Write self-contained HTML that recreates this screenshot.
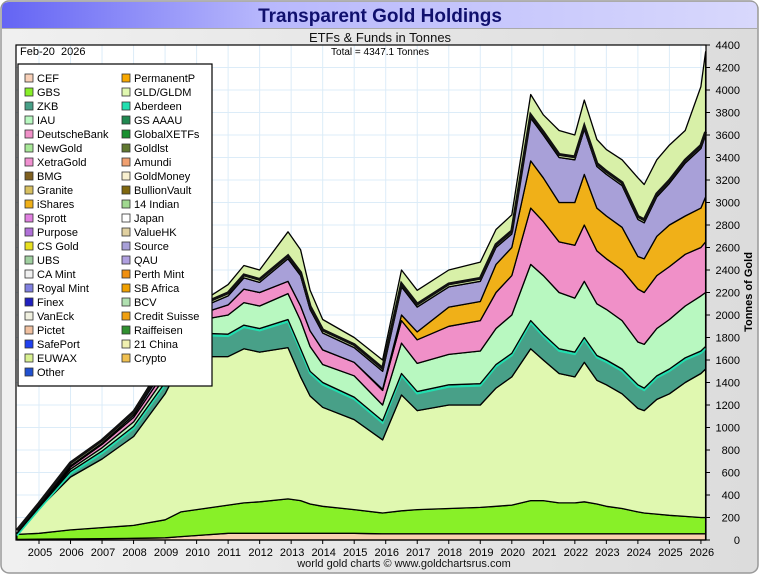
<!DOCTYPE html>
<html><head><meta charset="utf-8">
<style>
body{margin:0;background:#fff;font-family:"Liberation Sans",sans-serif;}
#wrap{position:relative;width:760px;height:575px;overflow:hidden;}
</style></head>
<body>
<div id="wrap">
<svg id="chart" width="760" height="575" xmlns="http://www.w3.org/2000/svg">
<defs>
<linearGradient id="tg" x1="0" x2="1" y1="0" y2="0"><stop offset="0" stop-color="#6464f4"/><stop offset="0.35" stop-color="#b8b8fc"/><stop offset="1" stop-color="#d8d8fc"/></linearGradient>
<linearGradient id="bg" x1="0" x2="1" y1="0" y2="0"><stop offset="0" stop-color="#f0f0f0"/><stop offset="1" stop-color="#dcdcdc"/></linearGradient>
</defs>
<rect x="1" y="1" width="757" height="572" rx="8" fill="url(#bg)" stroke="#999" stroke-width="1.5"/>
<path d="M2 28 V9 Q2 2 9 2 H751 Q757 2 757 9 V28 Z" fill="url(#tg)"/>
<line x1="2" y1="28.5" x2="757" y2="28.5" stroke="#aaa"/>
<text x="380" y="22" text-anchor="middle" font-size="19" font-weight="bold" fill="#10106e">Transparent Gold Holdings</text>
<text x="380" y="42" text-anchor="middle" font-size="13" fill="#111">ETFs &amp; Funds in Tonnes</text>
<rect x="16" y="45" width="690" height="495" fill="#fff"/>
<g id="grid"></g>
<g id="areas"></g>
<rect x="16" y="45" width="690" height="495" fill="none" stroke="#000" stroke-width="1.2"/>
<g id="yaxis"></g>
<g id="xaxis"></g>
<text x="20" y="55" font-size="11" fill="#000">Feb-20&#160;&#160;2026</text>
<text x="380" y="55" text-anchor="middle" font-size="10" fill="#000">Total = 4347.1 Tonnes</text>
<text transform="translate(752,292) rotate(-90)" text-anchor="middle" font-size="11" font-weight="bold" fill="#000">Tonnes of Gold</text>
<text x="404" y="567" text-anchor="middle" font-size="11" fill="#111">world gold charts © www.goldchartsrus.com</text>
<g id="legend"></g>
</svg>
</div>
<script>
const times = [2004.3,2005,2006,2007,2008,2009,2009.5,2010,2011,2011.5,2012,2012.9,2013.3,2013.6,2014,2015,2015.9,2016.5,2017,2018,2019,2019.5,2020,2020.6,2021,2021.5,2022,2022.3,2022.7,2023,2023.5,2024,2024.2,2024.6,2025,2025.5,2026,2026.15];
const cefVals   = [5,8,10,12,15,20,30,40,60,60,60,60,60,60,60,60,55,55,55,55,55,55,55,55,55,55,55,55,55,55,55,55,55,55,55,55,55,55];
const gbsVals   = [45,52,80,98,115,160,220,230,250,270,280,305,290,260,240,210,185,205,215,225,235,245,255,295,295,275,275,285,265,245,225,195,185,175,165,155,145,145];
const gldVals   = [5,220,470,610,790,1120,1320,1360,1320,1370,1330,1345,1100,960,880,800,650,1030,880,920,910,1050,1140,1350,1250,1150,1120,1240,1100,1080,1020,920,910,1020,1080,1190,1280,1320];
const zkbVals   = [3,10,50,70,90,100,150,210,200,210,210,250,250,220,220,200,170,190,170,180,190,210,210,250,230,220,220,220,220,220,220,210,200,210,220,220,200,200];
const iauVals   = [1,5,20,30,40,50,80,110,170,200,200,230,250,220,160,190,140,270,250,270,290,320,340,500,520,500,480,500,460,450,430,380,390,420,440,460,490,480];
const dbVals    = [1,5,20,30,40,50,60,50,90,120,120,110,130,140,130,120,130,200,210,250,270,320,350,500,480,450,470,500,470,450,450,470,460,470,470,460,430,450];
const ishVals   = [0,0,0,0,0,0,0,0,0,0,0,0,0,0,0,0,10,50,70,170,170,250,250,420,390,350,380,450,380,380,380,290,300,350,370,340,350,400];
const srcVals   = [0,0,10,10,20,40,40,50,80,100,90,200,270,190,150,130,160,250,220,180,180,150,120,380,380,400,380,400,370,370,370,330,320,350,370,470,530,550];
const otherVals = [0,10,30,30,40,60,50,40,100,110,110,240,230,170,120,90,100,150,150,150,170,160,170,210,180,240,220,260,240,220,230,370,340,330,340,290,550,740];
const yTicks = [0,200,400,600,800,1000,1200,1400,1600,1800,2000,2200,2400,2600,2800,3000,3200,3400,3600,3800,4000,4200,4400];
const yearLabels = ["2005","2006","2007","2008","2009","2010","2011","2012","2013","2014","2015","2016","2017","2018","2019","2020","2021","2022","2023","2024","2025","2026"];
const legendNames = ["CEF","PermanentP","GBS","GLD/GLDM","ZKB","Aberdeen","IAU","GS AAAU","DeutscheBank","GlobalXETFs","NewGold","Goldlst","XetraGold","Amundi","BMG","GoldMoney","Granite","BullionVault","iShares","14 Indian","Sprott","Japan","Purpose","ValueHK","CS Gold","Source","UBS","QAU","CA Mint","Perth Mint","Royal Mint","SB Africa","Finex","BCV","VanEck","Credit Suisse","Pictet","Raiffeisen","SafePort","21 China","EUWAX","Crypto","Other"];
const legendColors = ["#f8d0b8","#f8a800","#88f028","#e0f8b0","#48a088","#20e0b0","#b8f8c0","#208850","#f090c8","#189030","#a8e898","#607830","#f090d0","#f0a070","#806020","#f8f0d0","#d8c060","#806810","#f0b018","#a0d890","#e080e0","#ffffff","#b070d8","#e0d0a0","#e8e020","#a8a0d8","#a0d0a0","#b0a0e0","#f0f0f0","#f09010","#8080e0","#f0a000","#2020c0","#b0e0b0","#f0f0e0","#f0a010","#f0c0a0","#309030","#2040f0","#f0f0b0","#d8f090","#f0c050","#2050d0"];

const X0=16,X1=706,Y0=540,YT=45;
function xs(t){return 39+(t-2005)*31.52;}
function ys(v){return Y0-(v/4400)*(Y0-YT);}
const NS="http://www.w3.org/2000/svg";
function mk(tag,attrs,parent){const e=document.createElementNS(NS,tag);for(const k in attrs)e.setAttribute(k,attrs[k]);parent.appendChild(e);return e;}

const grid=document.getElementById('grid');
yTicks.forEach(v=>{const l=mk('line',{x1:X0,x2:X1,y1:ys(v),y2:ys(v),stroke:'#dcecf8','stroke-width':1},grid);

});
yearLabels.forEach(y=>{const x=xs(+y);const l=mk('line',{x1:x,x2:x,y1:YT,y2:Y0,stroke:'#dcecf8','stroke-width':1},grid);

});

const series=[
 {name:'cef',vals:cefVals,color:'#f8d0b0'},
 {name:'gbs',vals:gbsVals,color:'#88f028'},
 {name:'gld',vals:gldVals,color:'#e0f8b0'},
 {name:'zkb',vals:zkbVals,color:'#48a088'},
 {name:'iau',vals:iauVals,color:'#b8f8c0'},
 {name:'deutschebank',vals:dbVals,color:'#f090c8'},
 {name:'ishares',vals:ishVals,color:'#f0b018'},
 {name:'source',vals:srcVals,color:'#a8a0d8'},
 {name:'other',vals:otherVals,color:'#d8f0a8'}
];
const areas=document.getElementById('areas');
let base=times.map(()=>0);
series.forEach(s=>{
  const top=base.map((b,i)=>b+s.vals[i]);
  let d='M'+times.map((t,i)=>xs(t).toFixed(1)+' '+ys(top[i]).toFixed(1)).join(' L');
  for(let i=times.length-1;i>=0;i--) d+=' L'+xs(times[i]).toFixed(1)+' '+ys(base[i]).toFixed(1);
  d+=' Z';
  const p=mk('path',{d:d,fill:s.color,stroke:'#000','stroke-width':1.3,'stroke-linejoin':'round'},areas);
  
  
  if(s.name==='zkb'){
    const ln=mk('path',{d:'M'+times.map((t,i)=>xs(t).toFixed(1)+' '+(ys(top[i])+2).toFixed(1)).join(' L'),fill:'none',stroke:'#20e0b0','stroke-width':2},areas);
    
    
  }
  if(s.name==='other'){
    const ln=mk('path',{d:'M'+times.map((t,i)=>xs(t).toFixed(1)+' '+(ys(base[i])-3).toFixed(1)).join(' L'),fill:'none',stroke:'#111','stroke-width':3},areas);
    
    
  }
  base=top;
});

const yaxis=document.getElementById('yaxis');
yTicks.forEach(v=>{
  const tk=mk('line',{x1:X1,x2:X1+4,y1:ys(v),y2:ys(v),stroke:'#000'},yaxis);
  
  
  const t=mk('text',{x:X1+34,y:ys(v)+4,'text-anchor':'end','font-size':11,fill:'#000'},yaxis);
  t.textContent=v;
  
  
});
const xaxis=document.getElementById('xaxis');
yearLabels.forEach(y=>{
  const x=xs(+y);
  const tk=mk('line',{x1:x,x2:x,y1:Y0,y2:Y0+4,stroke:'#000'},xaxis);
  
  
  const t=mk('text',{x:x+1,y:556,'text-anchor':'middle','font-size':11,fill:'#000'},xaxis);
  t.textContent=y;
  
  
});

const lg=document.getElementById('legend');
const box=mk('rect',{x:18,y:64,width:194,height:322,fill:'#fff',stroke:'#000','stroke-width':1.2},lg);


legendNames.forEach((n,i)=>{
  const col=i%2,row=Math.floor(i/2);
  const x=col?122:25, y=74+row*14;
  const g=mk('g',{},lg);
  
  
  mk('rect',{x:x,y:y,width:8,height:8,fill:legendColors[i],stroke:'#333','stroke-width':0.8},g);
  const t=mk('text',{x:x+12,y:y+8,'font-size':11,fill:'#000'},g);
  t.textContent=n;
});
</script>
</body></html>
